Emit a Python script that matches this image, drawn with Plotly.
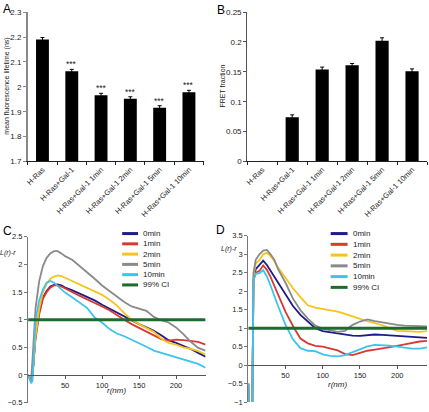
import plotly.graph_objects as go

# ---------------- data ----------------
categories = ["H-Ras", "H-Ras+Gal-1", "H-Ras+Gal-1 1min", "H-Ras+Gal-1 2min",
              "H-Ras+Gal-1 5min", "H-Ras+Gal-1 10min"]
lifetime = [2.19, 2.062, 1.966, 1.952, 1.916, 1.978]
lifetime_err = [0.008, 0.008, 0.008, 0.008, 0.008, 0.008]
significance = ["", "***", "***", "***", "***", "***"]
fret = [0.0, 0.074, 0.154, 0.161, 0.202, 0.151]
fret_err = [0.0, 0.004, 0.004, 0.003, 0.005, 0.004]

series_names = ["0min", "1min", "2min", "5min", "10min"]
series_colors = ["#1c1c8a", "#d93a2f", "#f7c31c", "#8a8a8a", "#3cc3ef"]
ci_name = "99% CI"
ci_color = "#1e6b30"
ci_level = 1.0

r_c = [0, 2, 4, 6, 8, 10, 15, 20, 25, 30, 35, 40, 45, 50, 60, 70, 80, 90, 100,
       110, 120, 130, 140, 150, 160, 170, 180, 190, 200, 210, 220, 230, 240]
c_0min = [0.0, -0.05, -0.1, 0.0, 0.35, 0.7, 1.15, 1.4, 1.52, 1.6, 1.63, 1.64, 1.62, 1.58,
          1.53, 1.47, 1.42, 1.35, 1.27, 1.2, 1.12, 1.05, 0.99, 0.92, 0.86, 0.8, 0.72,
          0.63, 0.58, 0.53, 0.47, 0.4, 0.33]
c_1min = [0.0, -0.05, -0.1, 0.0, 0.3, 0.65, 1.1, 1.38, 1.5, 1.58, 1.62, 1.62, 1.6, 1.57,
          1.5, 1.43, 1.37, 1.3, 1.24, 1.17, 1.08, 1.0, 0.92, 0.85, 0.78, 0.72, 0.65,
          0.62, 0.64, 0.63, 0.62, 0.6, 0.55]
c_2min = [0.0, -0.05, -0.1, 0.0, 0.35, 0.7, 1.2, 1.5, 1.65, 1.74, 1.78, 1.8, 1.79, 1.76,
          1.7, 1.64, 1.58, 1.52, 1.45, 1.36, 1.26, 1.12, 1.0, 0.92, 0.85, 0.78, 0.66,
          0.58, 0.55, 0.5, 0.47, 0.43, 0.37]
c_5min = [0.0, -0.05, -0.1, 0.3, 0.8, 1.2, 1.7, 1.97, 2.12, 2.2, 2.24, 2.24, 2.2, 2.15,
          2.08, 1.97, 1.86, 1.74, 1.62, 1.52, 1.41, 1.32, 1.24, 1.2, 1.16, 1.05, 0.99,
          0.95, 0.86, 0.74, 0.6, 0.49, 0.44]
c_10min = [0.0, -0.1, -0.15, -0.1, 0.6, 1.0, 1.35, 1.55, 1.67, 1.7, 1.67, 1.61, 1.55, 1.49,
           1.4, 1.3, 1.21, 1.04, 0.95, 0.83, 0.75, 0.7, 0.64, 0.58, 0.51, 0.44, 0.4,
           0.36, 0.32, 0.29, 0.25, 0.2, 0.13]

r_d = [0, 2, 5, 7, 10, 15, 20, 25, 30, 35, 40, 50, 60, 70, 80, 90, 100, 110, 120,
       130, 140, 150, 160, 170, 180, 190, 200, 210, 220, 230, 240]
d_0min = [-0.5, -2.0, -2.0, 2.3, 2.6, 2.72, 2.83, 2.71, 2.55, 2.42, 2.26, 1.92,
          1.6, 1.36, 1.17, 1.0, 0.92, 0.89, 0.84, 0.81, 0.8, 0.79, 0.81, 0.83, 0.82,
          0.81, 0.8, 0.79, 0.78, 0.76, 0.74]
d_1min = [-0.5, -2.0, -2.0, 2.3, 2.5, 2.55, 2.7, 2.58, 2.38, 2.15, 1.88, 1.44,
          1.06, 0.72, 0.59, 0.52, 0.5, 0.46, 0.4, 0.3, 0.27, 0.33, 0.39, 0.42, 0.45,
          0.49, 0.52, 0.56, 0.61, 0.64, 0.66]
d_2min = [-0.5, -2.0, -2.0, 2.4, 2.75, 2.84, 3.0, 3.04, 2.95, 2.82, 2.64, 2.36,
          2.08, 1.84, 1.62, 1.56, 1.53, 1.49, 1.45, 1.39, 1.31, 1.25, 1.19, 1.14, 1.08,
          1.0, 0.93, 0.92, 0.91, 0.9, 0.92]
d_5min = [-0.5, -2.0, -2.0, 2.5, 2.85, 3.0, 3.1, 3.12, 3.0, 2.85, 2.6, 2.23,
          1.8, 1.49, 1.26, 1.07, 0.99, 0.94, 0.9, 0.93, 1.09, 1.18, 1.24, 1.19, 1.15,
          1.11, 1.09, 1.07, 1.06, 1.05, 1.05]
d_10min = [-0.5, -2.0, -2.0, 2.3, 2.47, 2.49, 2.57, 2.4, 2.15, 1.9, 1.6, 1.09,
           0.7, 0.46, 0.39, 0.38, 0.29, 0.25, 0.24, 0.27, 0.35, 0.45, 0.51, 0.55, 0.55,
           0.53, 0.5, 0.47, 0.45, 0.45, 0.48]

c_series = [c_0min, c_1min, c_2min, c_5min, c_10min]
d_series = [d_0min, d_1min, d_2min, d_5min, d_10min]

# ---------------- layout helpers ----------------
W, H = 429, 412
FONT = "Liberation Sans, Arial, sans-serif"


def px_x(p):
    return p / W


def px_y(p):
    return 1 - p / H


fig = go.Figure()

# Panel A bars
fig.add_trace(go.Bar(x=categories, y=lifetime, xaxis="x", yaxis="y",
                     marker=dict(color="black", line=dict(width=0)),
                     error_y=dict(type="data", array=lifetime_err, color="black",
                                  thickness=1, width=2)))
# Panel B bars
fig.add_trace(go.Bar(x=categories, y=fret, xaxis="x2", yaxis="y2",
                     marker=dict(color="black", line=dict(width=0)),
                     error_y=dict(type="data", array=fret_err, color="black",
                                  thickness=1, width=2)))

# Panels C and D lines
for name, col, ys in zip(series_names, series_colors, c_series):
    fig.add_trace(go.Scatter(x=r_c, y=ys, mode="lines", name=name, xaxis="x3", yaxis="y3",
                             line=dict(color=col, width=1.8)))
fig.add_trace(go.Scatter(x=[r_c[0], r_c[-1]], y=[ci_level, ci_level], mode="lines",
                         name=ci_name, xaxis="x3", yaxis="y3",
                         line=dict(color=ci_color, width=3)))
for name, col, ys in zip(series_names, series_colors, d_series):
    fig.add_trace(go.Scatter(x=r_d, y=ys, mode="lines", name=name, xaxis="x4", yaxis="y4",
                             line=dict(color=col, width=1.8)))
fig.add_trace(go.Scatter(x=[r_d[0], r_d[-1]], y=[ci_level, ci_level], mode="lines",
                         name=ci_name, xaxis="x4", yaxis="y4",
                         line=dict(color=ci_color, width=3)))

tickfont = dict(family=FONT, size=8, color="#222")
cat_tickfont = dict(family=FONT, size=7.5, color="#222")

common_y = dict(showgrid=False, zeroline=False, showline=True, ticks="outside",
                ticklen=3, tickfont=tickfont)
common_cat = dict(type="category", showgrid=False, zeroline=False, showline=True,
                  linecolor="#222", linewidth=1, ticks="outside", ticklen=3,
                  tickcolor="#222", tickson="boundaries", tickangle=-45,
                  tickfont=cat_tickfont)

yC_dom = [px_y(407.5), px_y(238)]
yC_rng = [-0.5, 2.5]
yD_dom = [px_y(407), px_y(237)]
yD_rng = [-1, 3.5]


def zero_pos(dom, rng):
    return dom[0] + (0 - rng[0]) / (rng[1] - rng[0]) * (dom[1] - dom[0])


common_r = dict(range=[0, 240], tickvals=[50, 100, 150, 200], showgrid=False,
                zeroline=False, showline=True, linecolor="#555", linewidth=1,
                ticks="outside", ticklen=3, tickcolor="#555",
                tickfont=dict(family=FONT, size=7.5, color="#222"))

small_tick_y = {**common_y, "tickfont": dict(family=FONT, size=7.5, color="#222")}

fig.update_layout(
    width=W, height=H, margin=dict(l=0, r=0, t=0, b=0),
    paper_bgcolor="white", plot_bgcolor="white", showlegend=False,
    font=dict(family=FONT, color="#222"),
    bargap=0.56,
    xaxis=dict(domain=[px_x(25), px_x(202)], anchor="y", **common_cat),
    yaxis=dict(domain=[px_y(161), px_y(8.3)], anchor="x", range=[1.7, 2.3], dtick=0.1,
               linecolor="#888", linewidth=1.5, tickcolor="#888", **common_y),
    xaxis2=dict(domain=[px_x(246), px_x(427)], anchor="y2", **common_cat),
    yaxis2=dict(domain=[px_y(161), px_y(8.3)], anchor="x2", range=[0, 0.25], dtick=0.05,
                linecolor="#555", linewidth=1.2, tickcolor="#555", **common_y),
    xaxis3=dict(domain=[px_x(25.3), px_x(204)], anchor="free",
                position=zero_pos(yC_dom, yC_rng), **common_r),
    yaxis3=dict(domain=yC_dom, anchor="x3", range=yC_rng, dtick=0.5,
                linecolor="#777", linewidth=1.2, tickcolor="#777", **small_tick_y),
    xaxis4=dict(domain=[px_x(247), px_x(427)], anchor="free",
                position=zero_pos(yD_dom, yD_rng), **common_r),
    yaxis4=dict(domain=yD_dom, anchor="x4", range=yD_rng, dtick=0.5,
                linecolor="#777", linewidth=1.2, tickcolor="#777", **small_tick_y),
)

annotations = []
# significance stars
for cat, v, e, s in zip(categories, lifetime, lifetime_err, significance):
    if s:
        annotations.append(dict(x=cat, y=v + e, xref="x", yref="y", text=s, showarrow=False,
                                yanchor="bottom", yshift=-2,
                                font=dict(family=FONT, size=8.5, color="#222")))
# panel letters
for letter, lx, ly in [("A", -1, 5.5), ("B", 214, 6), ("C", -1, 232), ("D", 213, 231.5)]:
    annotations.append(dict(x=px_x(lx), y=px_y(ly), xref="paper", yref="paper", text=letter,
                            showarrow=False, xanchor="left", yanchor="middle", borderpad=0,
                            font=dict(family=FONT, size=12, color="black")))


def note(text, x, y, xanchor="center", angle=0, size=7, xref="paper"):
    annotations.append(dict(x=x, y=px_y(y), xref=xref, yref="paper", text=text,
                            textangle=angle, showarrow=False, xanchor=xanchor,
                            yanchor="middle", font=dict(family=FONT, size=size, color="#222")))


# axis titles
note("mean fluorescence lifetime (ns)", px_x(4.5), 84, angle=-90)
note("FRET fraction", px_x(221), 84, angle=-90)
note("<i>L(r)-r</i>", px_x(15), 255, xanchor="right")
note("<i>L(r)-r</i>", px_x(238), 250, xanchor="right")
note("<i>r(nm)</i>", 120, 395.5, size=8, xref="x3")
note("<i>r(nm)</i>", 120, 389.5, size=8, xref="x4")

# manual legends
shapes = []
legend_names = series_names + [ci_name]
legend_colors = series_colors + [ci_color]
for (x0, x1, xt, y0, dy) in [(120, 136, 139, 234.7, 10.5), (330, 347, 350, 234.7, 11.0)]:
    for i, (nm, col) in enumerate(zip(legend_names, legend_colors)):
        yy = y0 + i * dy
        shapes.append(dict(type="line", xref="paper", yref="paper", x0=px_x(x0), x1=px_x(x1),
                           y0=px_y(yy), y1=px_y(yy), line=dict(color=col, width=3)))
        note(nm, px_x(xt), yy, xanchor="left", size=8)

fig.update_layout(annotations=annotations, shapes=shapes)
fig.write_html("out.html", config={"displayModeBar": False},
               post_script="document.body.style.margin='0';document.body.style.overflow='hidden';")
